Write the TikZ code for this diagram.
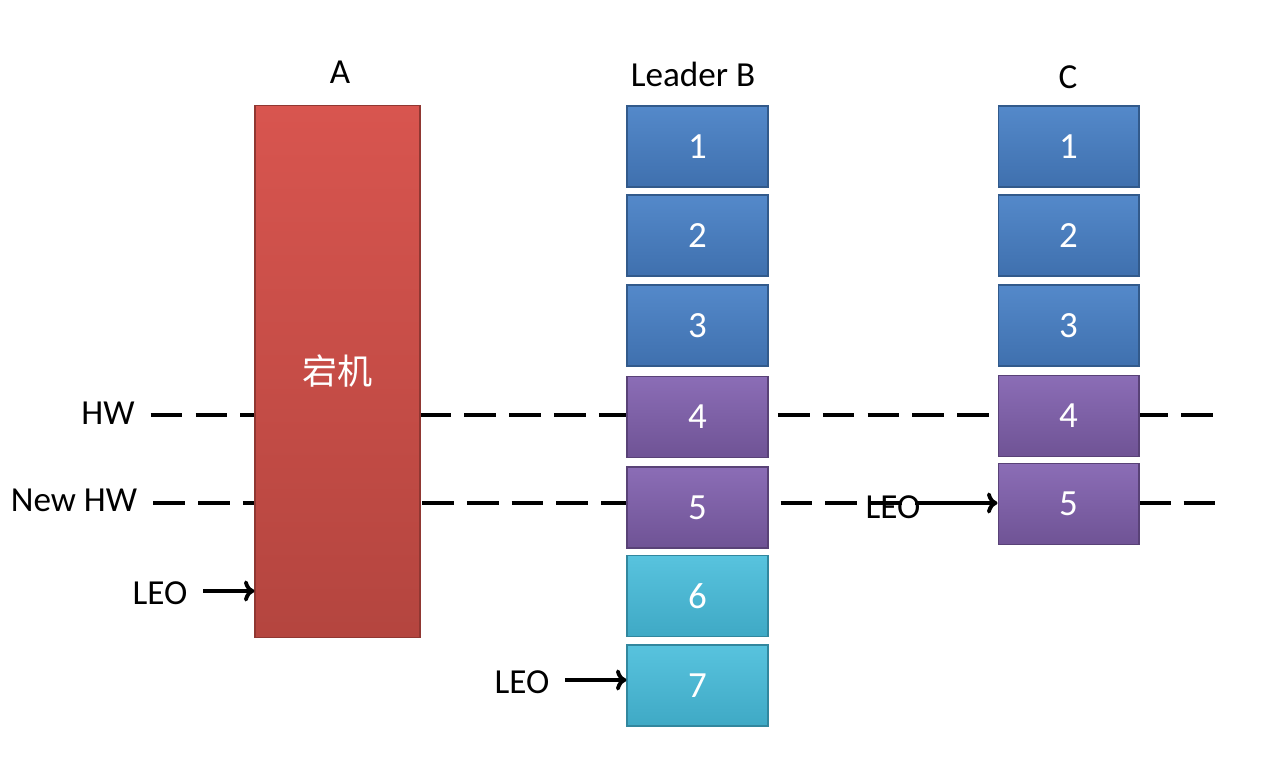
\documentclass[tikz,border=0pt]{standalone}
\usepackage{fontspec}
\setmainfont{Carlito}
\newfontfamily\cjk{Noto Sans CJK SC}
\usetikzlibrary{arrows.meta,positioning}
\definecolor{redTop}{HTML}{D8554F}
\definecolor{redBot}{HTML}{B4453F}
\definecolor{blueTop}{HTML}{5489CA}
\definecolor{blueBot}{HTML}{3F70AE}
\definecolor{purpTop}{HTML}{8B6DB6}
\definecolor{purpBot}{HTML}{6F5395}
\definecolor{cyanTop}{HTML}{58C3DE}
\definecolor{cyanBot}{HTML}{3FA9C5}
\tikzset{
  logbox/.style={line width=0.6pt, text=white, font=\fontsize{21}{21}\selectfont,
    minimum width=2.82cm, minimum height=1.62cm, inner sep=0pt},
  bluebox/.style={logbox, draw=blueBot!80!black, top color=blueTop, bottom color=blueBot},
  purpbox/.style={logbox, draw=purpBot!80!black, top color=purpTop, bottom color=purpBot},
  cyanbox/.style={logbox, draw=cyanBot!80!black, top color=cyanTop, bottom color=cyanBot},
  lbl/.style={font=\fontsize{20}{20}\selectfont, inner sep=1pt},
  hwline/.style={line width=2.2pt, dash pattern=on 18pt off 7.5pt},
  leoarrow/.style={-{To[length=6pt,width=12pt]}, line width=2.2pt},
}

\begin{document}
\begin{tikzpicture}[x=0.02cm, y=-0.02cm]
\useasboundingbox (0,0) rectangle (1264,762);
% watermark lines
\node[lbl] (hw) at (108,413) {HW};
\node[lbl] (newhw) at (74,500) {New HW};
\coordinate (hwEnd) at (1224,415);
\coordinate (newhwEnd) at (1228,503);
\draw[hwline] ([xshift=8pt]hw.east |- hwEnd) -- (hwEnd);
\draw[hwline] ([xshift=8pt]newhw.east |- newhwEnd) -- (newhwEnd);
% replica A
\node[lbl] (titleA) at (340,72) {A};
\node[draw=redBot!80!black, line width=0.6pt, top color=redTop, bottom color=redBot,
  minimum width=3.3cm, minimum height=10.66cm, inner sep=0pt,
  text=white, font=\fontsize{20}{20}\selectfont\cjk] (A) at (337.5,371.5) {宕机};
% leader B
\node[lbl] (titleB) at (693,74) {Leader B};
\node[bluebox] (b1) at (697.5,146.5) {1};
\node[bluebox] (b2) at (697.5,235.5) {2};
\node[bluebox] (b3) at (697.5,325.5) {3};
\node[purpbox] (b4) at (697.5,417) {4};
\node[purpbox] (b5) at (697.5,507.5) {5};
\node[cyanbox] (b6) at (697.5,596) {6};
\node[cyanbox] (b7) at (697.5,685.5) {7};
% replica C
\node[lbl] (titleC) at (1068,77) {C};
\node[bluebox] (c1) at (1068.5,146.5) {1};
\node[bluebox] (c2) at (1068.5,235.5) {2};
\node[bluebox] (c3) at (1068.5,325.5) {3};
\node[purpbox] (c4) at (1068.5,416) {4};
\node[purpbox] (c5) at (1068.5,504) {5};
% LEO markers
\node[lbl] (leoA) at (160,593) {LEO};
\node[lbl] (leoB) at (522,682) {LEO};
\node[lbl] (leoC) at (893,507) {LEO};
\draw[leoarrow] ([xshift=8pt]leoA.east |- 0,591) -- (A.west |- 0,591);
\draw[leoarrow] ([xshift=8pt]leoB.east |- 0,680) -- (b7.west |- 0,680);
\draw[leoarrow] ([xshift=8pt]leoC.east |- 0,503) -- (c5.west |- 0,503);
\end{tikzpicture}
\end{document}
